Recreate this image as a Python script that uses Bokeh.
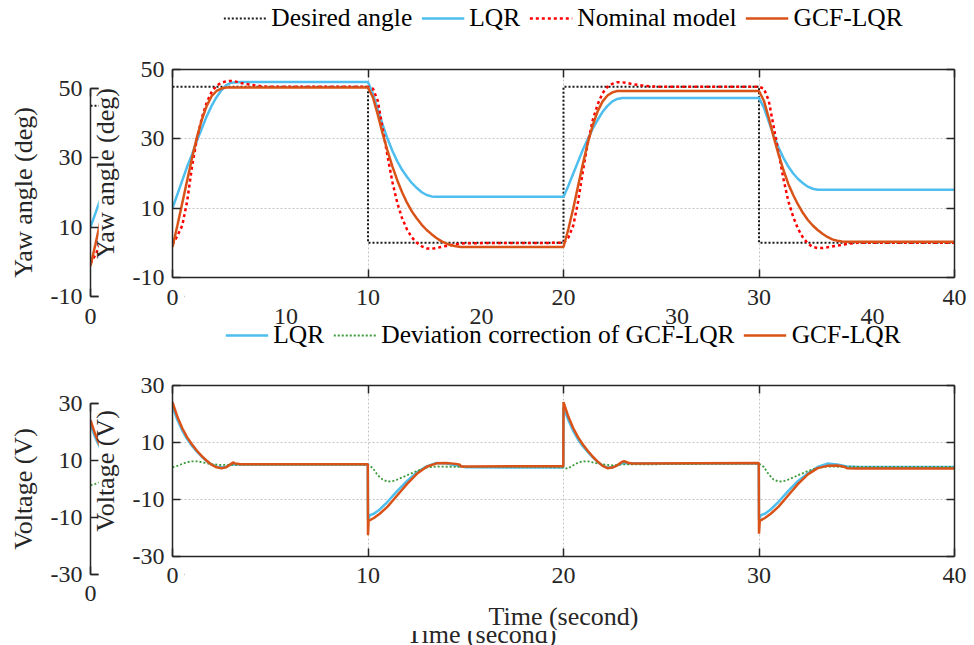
from bokeh.plotting import figure
from bokeh.models import Range1d, FixedTicker, LinearAxis, Legend, LegendItem, Column
from bokeh.embed import file_html
from bokeh.resources import INLINE

# ---------------- data ----------------
x_ticks = [0, 10, 20, 30, 40]
yaw_ticks = [-10, 10, 30, 50]
volt_ticks = [-30, -10, 10, 30]

t_desired = [0, 10, 10, 20, 20, 30, 30, 40]
desired_angle = [45, 45, 0, 0, 45, 45, 0, 0]

t_lqr_yaw = [0, 0.25, 0.5, 0.75, 1.0, 1.25, 1.5, 1.75, 2.0, 2.25, 2.5, 2.75, 3.0, 3.5, 10,
             10.25, 10.5, 10.75, 11.0, 11.25, 11.5, 11.75, 12.0, 12.25, 12.5, 12.75, 13.0, 13.25, 13.5, 20,
             20.25, 20.5, 20.75, 21.0, 21.25, 21.5, 21.75, 22.0, 22.25, 22.5, 22.75, 23.0, 30,
             30.25, 30.5, 30.75, 31.0, 31.25, 31.5, 31.75, 32.0, 32.25, 32.5, 32.75, 33.0, 40]
lqr_yaw = [10, 14, 18, 22, 25.5, 29.5, 33, 36.5, 39.5, 42, 44, 45.5, 46.2, 46.4, 46.4,
           43, 38.5, 34, 30, 26.5, 23.5, 21, 19, 17.2, 15.8, 14.6, 13.8, 13.4, 13.3, 13.3,
           16.5, 20, 23.5, 27, 30, 33, 35.5, 37.8, 39.5, 40.8, 41.5, 41.8, 41.8,
           39, 35, 31, 27.5, 24.5, 22, 20, 18.4, 17.2, 16.2, 15.6, 15.3, 15.3]

t_nominal = [0, 0.25, 0.5, 0.75, 1.0, 1.25, 1.5, 1.75, 2.0, 2.25, 2.5, 2.75, 3.0, 3.25, 3.5, 4.0, 4.5, 5.0, 10,
             10.25, 10.5, 10.75, 11.0, 11.25, 11.5, 11.75, 12.0, 12.25, 12.5, 12.75, 13.0, 13.25, 13.5, 14.0, 14.5, 15.0, 20,
             20.25, 20.5, 20.75, 21.0, 21.25, 21.5, 21.75, 22.0, 22.25, 22.5, 22.75, 23.0, 23.25, 23.5, 24.0, 24.5, 25.0, 30,
             30.25, 30.5, 30.75, 31.0, 31.25, 31.5, 31.75, 32.0, 32.25, 32.5, 32.75, 33.0, 33.25, 33.5, 34.0, 34.5, 35.0, 40]
nominal_yaw = [-0.5, 2, 5, 12, 22, 30, 36, 40.5, 43.5, 45.3, 46.2, 46.6, 46.7, 46.5, 46.1, 45.6, 45.2, 45.0, 45,
               44.5, 41, 33, 25, 17.5, 11.5, 7, 3.8, 1.5, 0, -1.0, -1.6, -1.7, -1.5, -0.9, -0.4, -0.1, 0,
               1.5, 5, 12, 21, 29, 35.5, 40, 43.2, 45, 45.9, 46.3, 46.3, 46.1, 45.8, 45.4, 45.1, 45, 45,
               44.5, 41, 33.5, 26, 18.5, 12, 7.5, 4, 1.5, -0.2, -1.2, -1.5, -1.5, -1.3, -0.8, -0.3, 0, 0]

t_gcf_yaw = [0, 0.25, 0.5, 0.75, 1.0, 1.25, 1.5, 1.75, 2.0, 2.25, 2.5, 2.75, 3.0, 10,
             10.25, 10.5, 10.75, 11.0, 11.25, 11.5, 11.75, 12.0, 12.25, 12.5, 12.75, 13.0, 13.25, 13.5, 13.75, 14.0, 14.25, 14.5, 14.75, 15.0, 20,
             20.25, 20.5, 20.75, 21.0, 21.25, 21.5, 21.75, 22.0, 22.25, 22.5, 22.75, 23.0, 30,
             30.25, 30.5, 30.75, 31.0, 31.25, 31.5, 31.75, 32.0, 32.25, 32.5, 32.75, 33.0, 33.25, 33.5, 33.75, 34.0, 34.25, 34.5, 40]
gcf_yaw = [-1.2, 5, 11.5, 18, 24.5, 30.5, 35.5, 39.5, 42.3, 43.8, 44.5, 44.8, 44.8, 44.8,
           42, 37, 31.5, 26.5, 22, 18, 14.5, 11.5, 9, 7, 5.2, 3.7, 2.5, 1.4, 0.5, -0.2, -0.7, -1.0, -1.2, -1.2, -1.2,
           4, 10, 16.5, 23, 29, 34, 38, 40.8, 42.5, 43.4, 43.8, 43.8, 43.8,
           41, 36, 30.5, 25.5, 21, 17, 13.8, 11, 8.6, 6.6, 5, 3.7, 2.6, 1.7, 1.0, 0.6, 0.4, 0.3, 0.3]

t_lqr_volt = [0, 0.25, 0.5, 0.75, 1.0, 1.25, 1.5, 1.75, 2.0, 2.25, 2.5, 2.75, 3.0, 3.5, 9.99,
              10.0, 10.1, 10.3, 10.6, 11.0, 11.5, 12.0, 12.5, 13.0, 13.5, 14.0, 14.5, 15.0, 19.99,
              20.0, 20.25, 20.5, 20.75, 21.0, 21.25, 21.5, 21.75, 22.0, 22.25, 22.5, 22.75, 23.0, 23.5, 29.99,
              30.0, 30.1, 30.3, 30.6, 31.0, 31.5, 32.0, 32.5, 33.0, 33.5, 34.0, 34.5, 35.0, 40]
lqr_volt = [22.6, 18, 14.2, 11.2, 8.8, 6.8, 5.0, 3.5, 2.3, 1.5, 1.3, 1.5, 2.3, 2.3, 2.3,
            -17, -15.5, -15, -13.5, -10.8, -7, -3.5, -0.5, 1.6, 2.8, 2.6, 2.0, 1.3, 1.2,
            22.3, 17.8, 14, 11, 8.6, 6.6, 4.8, 3.2, 1.9, 1.2, 1.3, 2.0, 2.8, 2.6, 2.6,
            -17, -15.5, -15, -13.5, -10.8, -7, -3.5, -0.8, 1.4, 2.6, 2.3, 1.6, 1.4, 1.4]

t_dev_volt = [0, 0.25, 0.5, 0.75, 1.0, 1.25, 1.5, 1.75, 2.0, 2.5, 3.0, 10,
              10.25, 10.5, 10.75, 11.0, 11.25, 11.5, 12.0, 12.5, 13.0, 13.5, 14.0, 20,
              20.2, 20.5, 20.75, 21.0, 21.25, 21.5, 22.0, 22.5, 23.0, 30,
              30.25, 30.5, 30.75, 31.0, 31.25, 31.5, 32.0, 32.5, 33.0, 33.5, 34.0, 40]
dev_volt = [1.3, 1.8, 2.5, 3.1, 3.4, 3.4, 3.1, 2.7, 2.4, 2.1, 2.2, 2.2,
            1.0, -1.5, -3.0, -3.7, -3.6, -3.0, -1.5, 0, 1.2, 1.6, 1.5, 1.3,
            0.8, 2.0, 3.0, 3.4, 3.4, 3.0, 2.3, 2.0, 2.3, 2.6,
            1.4, -1.2, -3.0, -3.7, -3.6, -3.0, -1.5, 0, 1.1, 1.6, 1.5, 1.4]

t_gcf_volt = [0, 0.25, 0.5, 0.75, 1.0, 1.25, 1.5, 1.75, 2.0, 2.25, 2.5, 2.75, 3.0, 3.1, 3.2, 3.5, 9.99,
              10.0, 10.03, 10.3, 10.6, 11.0, 11.5, 12.0, 12.5, 13.0, 13.5, 14.0, 14.5, 14.7, 14.75, 15.0, 19.99,
              20.0, 20.25, 20.5, 20.75, 21.0, 21.25, 21.5, 21.75, 22.0, 22.25, 22.5, 22.75, 23.0, 23.1, 23.3, 23.5, 29.99,
              30.0, 30.04, 30.3, 30.6, 31.0, 31.5, 32.0, 32.5, 33.0, 33.5, 34.0, 34.3, 34.5, 35.0, 40]
gcf_volt = [24.2, 19, 15, 11.8, 9.3, 7.1, 5.2, 3.6, 2.2, 1.3, 1.0, 1.3, 2.5, 3.0, 2.6, 2.4, 2.4,
            -22.5, -17.5, -16.5, -15, -12.5, -8.5, -4.5, -1, 1.5, 2.7, 2.8, 2.5, 2.2, 1.6, 1.6, 1.7,
            24.2, 19, 15, 11.8, 9.2, 7, 5, 3.3, 1.8, 1.0, 1.2, 2.0, 3.2, 3.5, 2.9, 2.6, 2.8,
            -22, -17.5, -16.5, -15, -12.5, -8.5, -4.5, -1.2, 1.0, 1.8, 1.9, 1.6, 1.0, 0.9, 0.9]

yaw_legend = ["Desired angle", "LQR", "Nominal model", "GCF-LQR"]
volt_legend = ["LQR", "Deviation correction of GCF-LQR", "GCF-LQR"]

# ---------------- styling ----------------
FONT = "Liberation Serif"
AXC = "#262626"
C_LQR = "#4DBEEE"
C_GCF = "#D95319"
C_NOM = "#FF0000"
C_DES = "#1a1a1a"
C_DEV = "#3A9A3A"

STY_DES = dict(line_color=C_DES, line_width=2, line_dash="2 2")
STY_LQR = dict(line_color=C_LQR, line_width=2.5)
STY_NOM = dict(line_color=C_NOM, line_width=2.5, line_dash="3 3")
STY_GCF = dict(line_color=C_GCF, line_width=2.5)
STY_DEV = dict(line_color=C_DEV, line_width=1.8, line_dash="2 2")

yaw_series = [(t_desired, desired_angle, STY_DES), (t_lqr_yaw, lqr_yaw, STY_LQR),
              (t_nominal, nominal_yaw, STY_NOM), (t_gcf_yaw, gcf_yaw, STY_GCF)]
volt_series = [(t_lqr_volt, lqr_volt, STY_LQR), (t_dev_volt, dev_volt, STY_DEV),
               (t_gcf_volt, gcf_volt, STY_GCF)]

BORDER_L = 86
BORDER_R = 20
FRAME_W = 782
FIG_W = BORDER_L + FRAME_W + BORDER_R
SHIFT_X = 82
MAIN_LEFT = 172 - BORDER_L          # 86
GHOST_LEFT = MAIN_LEFT - SHIFT_X    # 4  -> copy's frame at x = 90
TOP_H, BOT_H = 208, 171             # frame heights
MAIN_TOP_Y, MAIN_BOT_Y = 0, 324
GHOST_TOP_Y, GHOST_BOT_Y = 19, 342
MASK_LEFT = 98


def absolute(obj, left, top, z=None):
    st = {"position": "absolute", "left": f"{left}px", "top": f"{top}px"}
    obj.styles = st
    return obj


def style_axis(ax, ticks, labels=True):
    ax.ticker = FixedTicker(ticks=ticks, minor_ticks=[])
    ax.axis_line_color = AXC
    ax.axis_line_width = 1.5
    ax.major_tick_line_color = AXC
    ax.major_tick_line_width = 1.5
    ax.major_tick_in = 8
    ax.major_tick_out = 0
    ax.minor_tick_line_color = None
    ax.major_label_text_font = FONT
    ax.major_label_text_color = AXC
    ax.major_label_text_font_size = "24px"
    if labels:
        ax.major_label_overrides = {t: str(t) for t in ticks if t < 0}
    else:
        ax.major_label_overrides = {t: "" for t in ticks}
        ax.major_label_standoff = 0
    ax.axis_label_text_font = FONT
    ax.axis_label_text_font_style = "normal"
    ax.axis_label_text_font_size = "26px"
    ax.axis_label_text_color = AXC


def base_fig(yr, yticks, top_b, frame_h, bottom_b, x_standoff, opaque):
    p = figure(width=FIG_W, height=top_b + frame_h + bottom_b,
               x_range=Range1d(0, 40), y_range=Range1d(*yr),
               output_backend="svg", toolbar_location=None,
               min_border_left=BORDER_L, min_border_right=BORDER_R,
               min_border_top=top_b, min_border_bottom=bottom_b,
               background_fill_color="white", border_fill_color="white",
               border_fill_alpha=1.0 if opaque else 0.0, outline_line_color=None)
    xa = p.xaxis[0]
    ya = p.yaxis[0]
    style_axis(xa, x_ticks)
    style_axis(ya, yticks)
    xa.major_label_standoff = x_standoff
    ya.major_label_standoff = 8
    ya.axis_label_standoff = 10
    ta = LinearAxis()
    style_axis(ta, x_ticks, labels=False)
    p.add_layout(ta, "above")
    ra = LinearAxis()
    style_axis(ra, yticks, labels=False)
    p.add_layout(ra, "right")
    for g, tk in ((p.xgrid[0], x_ticks), (p.ygrid[0], yticks)):
        g.ticker = FixedTicker(ticks=tk, minor_ticks=[])
        g.grid_line_color = "#c4c4c4"
        g.grid_line_dash = "2 2"
        g.grid_line_width = 1
    return p, xa, ya


def make_yaw(opaque):
    p, xa, ya = base_fig((-10, 50), yaw_ticks, 69, TOP_H, 40, 12, opaque)
    ya.axis_label = "Yaw angle (deg)"
    for t, v, sty in yaw_series:
        p.line(t, v, **sty)
    return p


def make_volt(opaque):
    p, xa, ya = base_fig((-30, 30), volt_ticks, 61, BOT_H, 90, 11, opaque)
    ya.axis_label = "Voltage (V)"
    xa.axis_label = "Time (second)"
    xa.axis_label_standoff = 16
    for t, v, sty in volt_series:
        p.line(t, v, **sty)
    return p


def make_mask(width, height):
    # plain white sheet: the front chart's paper, which hides the shifted copy below it
    m = figure(width=width, height=height, x_range=Range1d(0, 1), y_range=Range1d(0, 1),
               output_backend="svg", toolbar_location=None,
               x_axis_location=None, y_axis_location=None, min_border=0,
               background_fill_color="white", border_fill_color="white", outline_line_color=None)
    m.xgrid.visible = False
    m.ygrid.visible = False
    return m


def make_legend_strip(labels, series):
    q = figure(width=FIG_W, height=36, x_range=Range1d(0, 40), y_range=Range1d(1000, 1001),
               output_backend="svg", toolbar_location=None,
               x_axis_location=None, y_axis_location=None,
               min_border=0, min_border_left=BORDER_L, min_border_right=BORDER_R,
               min_border_top=0, min_border_bottom=0,
               background_fill_alpha=0, border_fill_alpha=0, outline_line_color=None)
    q.xgrid.visible = False
    q.ygrid.visible = False
    items = []
    for lab, (t, v, sty) in zip(labels, series):
        r = q.line(t, v, **sty)   # outside this strip's range: only the legend sample shows
        items.append(LegendItem(label=lab, renderers=[r]))
    lg = Legend(items=items, orientation="horizontal", location="center",
                label_text_font=FONT, label_text_font_size="25.5px", label_text_color="#000000",
                glyph_width=43, glyph_height=26, label_height=26, label_standoff=5,
                spacing=9, padding=0, margin=0, border_line_color=None,
                background_fill_alpha=0)
    q.add_layout(lg, "center")
    return q


ghost_top = absolute(make_yaw(True), GHOST_LEFT, GHOST_TOP_Y)
ghost_bot = absolute(make_volt(True), GHOST_LEFT, GHOST_BOT_Y)
mask_top = absolute(make_mask(974 - MASK_LEFT, 309), MASK_LEFT, 0)
mask_bot = absolute(make_mask(974 - MASK_LEFT, 306), MASK_LEFT, 325)
main_top = absolute(make_yaw(False), MAIN_LEFT, MAIN_TOP_Y)
main_bot = absolute(make_volt(False), MAIN_LEFT, MAIN_BOT_Y)
leg_top = absolute(make_legend_strip(yaw_legend, yaw_series), MAIN_LEFT, 0)
leg_bot = absolute(make_legend_strip(volt_legend, volt_series), MAIN_LEFT, 317)

root = Column(children=[ghost_top, ghost_bot, mask_top, mask_bot, main_top, main_bot, leg_top, leg_bot],
              width=974, height=645,
              styles={"position": "absolute", "left": "0px", "top": "0px", "overflow": "hidden"})

open("out.html", "w").write(file_html(root, INLINE))
